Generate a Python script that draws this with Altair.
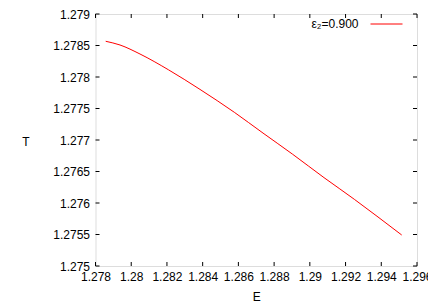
import altair as alt
import pandas as pd

# curve
E_vals = [1.278571, 1.279372, 1.280491, 1.282076, 1.283851, 1.285771, 1.287378,
          1.289041, 1.290793, 1.292490, 1.293817, 1.295144]
T_vals = [1.278567, 1.278508, 1.278365, 1.278116, 1.277803, 1.277440, 1.277110,
          1.276773, 1.276403, 1.276059, 1.275778, 1.275492]

x_ticks = [1.278, 1.28, 1.282, 1.284, 1.286, 1.288, 1.29, 1.292, 1.294, 1.296]
y_ticks = [1.275, 1.2755, 1.276, 1.2765, 1.277, 1.2775, 1.278, 1.2785, 1.279]
legend_label = "ε₂=0.900"

W, H = 321.5, 252
FONT = "Liberation Sans"

df = pd.DataFrame({"E": E_vals, "T": T_vals})
xt = pd.DataFrame({"xt": x_ticks})
yt = pd.DataFrame({"yt": y_ticks})

xs = alt.Scale(domain=[1.278, 1.296], nice=False, zero=False)
ys = alt.Scale(domain=[1.275, 1.279], nice=False, zero=False)

x_axis = alt.Axis(
    title="E", values=x_ticks, format=".3~f", tickSize=0, labelPadding=5,
    labelOverlap=False, labelFlush=False,
    grid=False, domain=False, labelFont=FONT, labelFontSize=12, labelColor="black",
    titleFont=FONT, titleFontSize=12, titleFontWeight="normal", titleColor="black",
    titleY=30, titleBaseline="middle")
y_axis = alt.Axis(
    title="T", values=y_ticks, format=".4~f", tickSize=0, labelPadding=6,
    labelOverlap=False, labelFlush=False,
    grid=False, domain=False, labelFont=FONT, labelFontSize=12, labelColor="black",
    titleFont=FONT, titleFontSize=12, titleFontWeight="normal", titleColor="black",
    titleAngle=0, titleX=-70, titleY=127, titleBaseline="middle", titleAlign="center")

line = alt.Chart(df).mark_line(color="#ff0000", strokeWidth=1, interpolate="monotone").encode(
    x=alt.X("E:Q", scale=xs, axis=x_axis, title="E"),
    y=alt.Y("T:Q", scale=ys, axis=y_axis, title="T"),
)

tk = 4
xb = alt.Chart(xt).mark_rule(color="black", strokeWidth=1).encode(
    x=alt.X("xt:Q", scale=xs, axis=x_axis, title="E"), y=alt.value(H), y2=alt.value(H - tk))
xtop = alt.Chart(xt).mark_rule(color="black", strokeWidth=1).encode(
    x=alt.X("xt:Q", scale=xs, axis=x_axis, title="E"), y=alt.value(0), y2=alt.value(tk))
yl = alt.Chart(yt).mark_rule(color="black", strokeWidth=1).encode(
    y=alt.Y("yt:Q", scale=ys, axis=y_axis, title="T"), x=alt.value(0), x2=alt.value(tk))
yr = alt.Chart(yt).mark_rule(color="black", strokeWidth=1).encode(
    y=alt.Y("yt:Q", scale=ys, axis=y_axis, title="T"), x=alt.value(W), x2=alt.value(W - tk))

leg_text = alt.Chart(pd.DataFrame({"t": [legend_label]})).mark_text(
    align="right", baseline="middle", font=FONT, fontSize=12, color="black"
).encode(text="t:N", x=alt.value(263), y=alt.value(10))
leg_line = alt.Chart(pd.DataFrame({"t": [legend_label]})).mark_rule(
    color="#ff0000", strokeWidth=1
).encode(x=alt.value(275), x2=alt.value(307), y=alt.value(10))

chart = alt.layer(line, xb, xtop, yl, yr, leg_text, leg_line).properties(
    width=W, height=H,
    autosize=alt.AutoSizeParams(type="none"),
    padding={"left": 87.5, "top": 6, "right": 11, "bottom": 38},
).configure_view(stroke="black", strokeWidth=1).configure(background="white")

chart.save("out.html", embed_options={"renderer": "svg", "actions": False})
